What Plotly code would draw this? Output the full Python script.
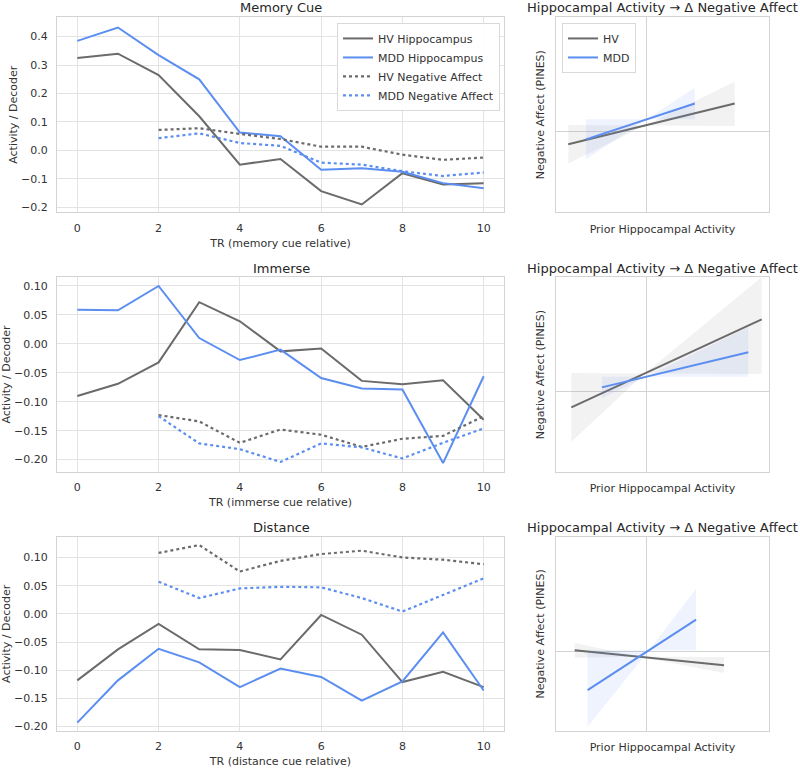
import plotly.graph_objects as go

# ---------------- data ----------------
tr = [0, 1, 2, 3, 4, 5, 6, 7, 8, 9, 10]
tr_na = [2, 3, 4, 5, 6, 7, 8, 9, 10]

mem_hv_hip = [0.325, 0.340, 0.265, 0.120, -0.050, -0.030, -0.143, -0.190, -0.080, -0.120, -0.115]
mem_mdd_hip = [0.385, 0.432, 0.335, 0.250, 0.063, 0.050, -0.068, -0.063, -0.075, -0.115, -0.133]
mem_hv_na = [0.072, 0.078, 0.058, 0.040, 0.013, 0.013, -0.015, -0.033, -0.025]
mem_mdd_na = [0.043, 0.060, 0.026, 0.016, -0.043, -0.050, -0.073, -0.090, -0.078]

imm_hv_hip = [-0.090, -0.069, -0.032, 0.072, 0.039, -0.013, -0.008, -0.064, -0.070, -0.063, -0.131]
imm_mdd_hip = [0.059, 0.058, 0.100, 0.010, -0.028, -0.010, -0.059, -0.077, -0.079, -0.206, -0.056]
imm_hv_na = [-0.123, -0.134, -0.171, -0.148, -0.157, -0.178, -0.164, -0.159, -0.125]
imm_mdd_na = [-0.125, -0.172, -0.182, -0.204, -0.172, -0.179, -0.198, -0.171, -0.146]

dis_hv_hip = [-0.118, -0.063, -0.018, -0.063, -0.064, -0.081, -0.002, -0.037, -0.121, -0.103, -0.130]
dis_mdd_hip = [-0.193, -0.118, -0.062, -0.086, -0.130, -0.097, -0.112, -0.154, -0.120, -0.033, -0.136]
dis_hv_na = [0.108, 0.122, 0.075, 0.094, 0.106, 0.112, 0.100, 0.096, 0.088]
dis_mdd_na = [0.057, 0.028, 0.045, 0.048, 0.047, 0.028, 0.004, 0.034, 0.063]

# regression fits (x endpoints, fitted y) and CI envelope (x, low, high)
mem_hv_fit_x = [-1.097, 1.247]
mem_hv_fit_y = [-0.189, 0.438]
mem_hv_ci_x = [-1.097, -0.017, 1.247]
mem_hv_ci_lo = [-0.485, 0.100, 0.092]
mem_hv_ci_hi = [0.107, 0.100, 0.770]
mem_mdd_fit_x = [-0.848, 0.685]
mem_mdd_fit_y = [-0.113, 0.438]
mem_mdd_ci_x = [-0.848, 0.007, 0.685]
mem_mdd_ci_lo = [-0.419, 0.194, 0.194]
mem_mdd_ci_hi = [0.194, 0.194, 0.678]

imm_hv_fit_x = [-1.054, 1.627]
imm_hv_fit_y = [-0.242, 1.117]
imm_hv_ci_x = [-1.054, -0.020, 1.627]
imm_hv_ci_lo = [-0.772, 0.280, 0.273]
imm_hv_ci_hi = [0.288, 0.280, 1.765]
imm_mdd_fit_x = [-0.623, 1.439]
imm_mdd_fit_y = [0.067, 0.607]
imm_mdd_ci_x = [-0.623, 0.003, 1.439]
imm_mdd_ci_lo = [-0.101, 0.231, 0.231]
imm_mdd_ci_hi = [0.231, 0.231, 0.993]

dis_hv_fit_x = [-1.007, 1.097]
dis_hv_fit_y = [0.011, -0.220]
dis_hv_ci_x = [-1.007, -0.100, 1.097]
dis_hv_ci_lo = [-0.102, -0.089, -0.338]
dis_hv_ci_hi = [0.124, -0.089, -0.091]
dis_mdd_fit_x = [-0.825, 0.703]
dis_mdd_fit_y = [-0.604, 0.483]
dis_mdd_ci_x = [-0.825, 0.040, 0.703]
dis_mdd_ci_lo = [-1.168, 0.011, 0.011]
dis_mdd_ci_hi = [0.011, 0.011, 0.960]

titles_left = ["Memory Cue", "Immerse", "Distance"]
xlabels_left = ["TR (memory cue relative)", "TR (immerse cue relative)", "TR (distance cue relative)"]
title_right = "Hippocampal Activity \u2192 \u0394 Negative Affect"

GREY = "#6b6b6b"
BLUE = "#5b8ef0"
GREY_FILL = "rgba(150,150,150,0.12)"
BLUE_FILL = "rgba(91,142,240,0.10)"
FONT = "DejaVu Sans"
W, H = 800, 768

fig = go.Figure()

left_dom_x = [57 / W, 504 / W]
right_dom_x = [556 / W, 769 / W]
rows_px = [(17, 213), (278, 473), (538, 733)]
left_ranges = [[-0.218, 0.469], [-0.221, 0.115], [-0.208, 0.137]]
left_dtick = [0.1, 0.05, 0.05]
left_fmt = [".1f", ".2f", ".2f"]
ytitle_standoff = [1, 6, 6]

panels = [
    (mem_hv_hip, mem_mdd_hip, mem_hv_na, mem_mdd_na,
     (mem_hv_fit_x, mem_hv_fit_y, mem_hv_ci_x, mem_hv_ci_lo, mem_hv_ci_hi),
     (mem_mdd_fit_x, mem_mdd_fit_y, mem_mdd_ci_x, mem_mdd_ci_lo, mem_mdd_ci_hi)),
    (imm_hv_hip, imm_mdd_hip, imm_hv_na, imm_mdd_na,
     (imm_hv_fit_x, imm_hv_fit_y, imm_hv_ci_x, imm_hv_ci_lo, imm_hv_ci_hi),
     (imm_mdd_fit_x, imm_mdd_fit_y, imm_mdd_ci_x, imm_mdd_ci_lo, imm_mdd_ci_hi)),
    (dis_hv_hip, dis_mdd_hip, dis_hv_na, dis_mdd_na,
     (dis_hv_fit_x, dis_hv_fit_y, dis_hv_ci_x, dis_hv_ci_lo, dis_hv_ci_hi),
     (dis_mdd_fit_x, dis_mdd_fit_y, dis_mdd_ci_x, dis_mdd_ci_lo, dis_mdd_ci_hi)),
]

annotations = []
layout_axes = {}
for i, (hvh, mddh, hvn, mddn, hvfit, mddfit) in enumerate(panels):
    la = 2 * i + 1
    ra = 2 * i + 2
    lx = "x" if la == 1 else f"x{la}"
    ly = "y" if la == 1 else f"y{la}"
    rx = f"x{ra}"
    ry = f"y{ra}"
    top, bot = rows_px[i]
    ydom = [1 - bot / H, 1 - top / H]
    first = (i == 0)

    fig.add_trace(go.Scatter(x=tr, y=hvh, mode="lines", name="HV Hippocampus",
                             line=dict(color=GREY, width=2), xaxis=lx, yaxis=ly,
                             showlegend=first, legend="legend"))
    fig.add_trace(go.Scatter(x=tr, y=mddh, mode="lines", name="MDD Hippocampus",
                             line=dict(color=BLUE, width=2), xaxis=lx, yaxis=ly,
                             showlegend=first, legend="legend"))
    fig.add_trace(go.Scatter(x=tr_na, y=hvn, mode="lines", name="HV Negative Affect",
                             line=dict(color=GREY, width=2.2, dash="dot"), xaxis=lx, yaxis=ly,
                             showlegend=first, legend="legend"))
    fig.add_trace(go.Scatter(x=tr_na, y=mddn, mode="lines", name="MDD Negative Affect",
                             line=dict(color=BLUE, width=2.2, dash="dot"), xaxis=lx, yaxis=ly,
                             showlegend=first, legend="legend"))

    for (fx, fy, cx, clo, chi), col, fill, nm in [
        (hvfit, GREY, GREY_FILL, "HV"), (mddfit, BLUE, BLUE_FILL, "MDD")]:
        fig.add_trace(go.Scatter(x=cx + cx[::-1], y=chi + clo[::-1], mode="lines",
                                 fill="toself", fillcolor=fill, line=dict(width=0),
                                 hoverinfo="skip", showlegend=False, xaxis=rx, yaxis=ry))
        fig.add_trace(go.Scatter(x=fx, y=fy, mode="lines", name=nm,
                                 line=dict(color=col, width=2), xaxis=rx, yaxis=ry,
                                 showlegend=first, legend="legend2"))

    axis_common = dict(showline=True, linecolor="#d3d3d3", linewidth=1, mirror=True,
                       ticks="", tickfont=dict(family=FONT, size=11, color="#333333"))
    layout_axes["xaxis" if la == 1 else f"xaxis{la}"] = dict(
        domain=left_dom_x, anchor=ly, range=[-0.5, 10.5], tickvals=[0, 2, 4, 6, 8, 10],
        showgrid=True, gridcolor="#e3e3e3", gridwidth=1, zeroline=False, ticklabelstandoff=5,
        title=dict(text=xlabels_left[i], font=dict(family=FONT, size=11, color="#333333"), standoff=5),
        **axis_common)
    layout_axes["yaxis" if la == 1 else f"yaxis{la}"] = dict(
        domain=ydom, anchor=lx, range=left_ranges[i], dtick=left_dtick[i], tick0=0,
        tickformat=left_fmt[i], showgrid=True, gridcolor="#e3e3e3", gridwidth=1, zeroline=False,
        ticklabelstandoff=6,
        title=dict(text="Activity / Decoder", font=dict(family=FONT, size=11, color="#333333"),
                   standoff=ytitle_standoff[i]),
        **axis_common)
    layout_axes[f"xaxis{ra}"] = dict(
        domain=right_dom_x, anchor=ry, range=[-1.27, 1.73], showticklabels=False,
        showgrid=False, zeroline=True, zerolinecolor="#d3d3d3", zerolinewidth=1,
        title=dict(text="Prior Hippocampal Activity", font=dict(family=FONT, size=11, color="#333333"), standoff=12),
        **axis_common)
    layout_axes[f"yaxis{ra}"] = dict(
        domain=ydom, anchor=rx, range=[-1.235, 1.765], showticklabels=False,
        showgrid=False, zeroline=True, zerolinecolor="#d3d3d3", zerolinewidth=1,
        title=dict(text="Negative Affect (PINES)", font=dict(family=FONT, size=11, color="#333333"), standoff=8),
        **axis_common)

    annotations.append(dict(text=titles_left[i], x=281 / W, y=1 - (top - 9) / H, xref="paper", yref="paper",
                            xanchor="center", yanchor="middle", showarrow=False,
                            font=dict(family=FONT, size=13, color="#262626")))
    annotations.append(dict(text=title_right, x=662 / W, y=1 - (top - 9) / H, xref="paper", yref="paper",
                            xanchor="center", yanchor="middle", showarrow=False,
                            font=dict(family=FONT, size=13, color="#262626")))

fig.update_layout(
    width=W, height=H, margin=dict(l=0, r=0, t=0, b=0),
    paper_bgcolor="white", plot_bgcolor="white",
    font=dict(family=FONT, size=11, color="#333333"),
    annotations=annotations,
    legend=dict(x=500 / W, y=1 - 23 / H, xanchor="right", yanchor="top",
                bgcolor="rgba(255,255,255,0.9)", bordercolor="#d9d9d9", borderwidth=1,
                font=dict(family=FONT, size=11, color="#333333"), tracegroupgap=0, itemwidth=30),
    legend2=dict(x=562 / W, y=1 - 23 / H, xanchor="left", yanchor="top",
                 bgcolor="rgba(255,255,255,0.9)", bordercolor="#d9d9d9", borderwidth=1,
                 font=dict(family=FONT, size=11, color="#333333"), itemwidth=30),
    **layout_axes,
)

fig.write_html("out.html")
